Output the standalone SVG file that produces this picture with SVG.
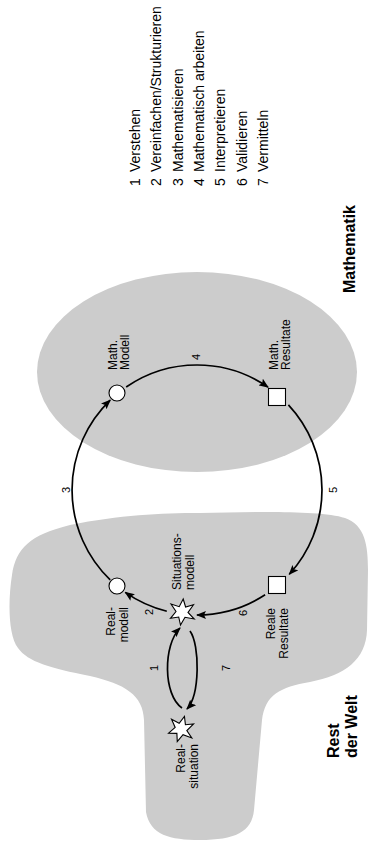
<svg xmlns="http://www.w3.org/2000/svg" width="370" height="845" viewBox="0 0 370 845">
<style>
text{font-family:"Liberation Sans",Arial,Helvetica,sans-serif;fill:#000}
.lbl{font-size:12px}
.num{font-size:11px}
.leg{font-size:14px}
.big{font-size:16px;font-weight:bold}
.area{fill:#cccccc;stroke:none}
.arc{fill:none;stroke:#000;stroke-width:1.7;marker-end:url(#ah)}
.node{fill:#fff;stroke:#000;stroke-width:1.1}
</style>
<defs>
<marker id="ah" viewBox="0 0 10 8" refX="9" refY="4" markerWidth="10" markerHeight="8" markerUnits="userSpaceOnUse" orient="auto">
<path d="M0,0 L10,4 L0,8 L2,4 Z" fill="#000"/>
</marker>
<polygon id="star" points="1.2,-13 3.6,-5 11.5,-7.2 6,0.5 12.2,7 3,5.3 -1.5,13 -3.3,5 -11.5,6.3 -6,-0.5 -11,-8 -2.8,-5.3"/>
</defs>

<g id="areas">
<ellipse id="mathematik-area" class="area" cx="197" cy="372" rx="160" ry="100"/>
<path id="welt-area" class="area" d="M200,513 C250,512 320,510 345,518 C365,525 368,545 368,570 L367,630 C366,660 345,675 310,682 C280,687 265,695 262,720 L254,810 C252,832 235,840 200,840 C170,840 150,835 146,812 L144,720 C143,695 125,684 90,676 C50,668 28,662 18,648 C8,635 8,600 12,575 C16,548 30,535 70,525 C120,515 160,513 200,513 Z"/>
</g>

<g id="connectors">
<path id="c3" class="arc" d="M110.2,579.9 A125,125 0 0 1 110.2,400.1"/>
<path id="c4" class="arc" d="M126.2,387 A125,125 0 0 1 268,387.1"/>
<path id="c5" class="arc" d="M288.4,404.8 A125,125 0 0 1 289.3,574.3"/>
<path id="c6" class="arc" d="M265.1,594.8 A125,125 0 0 1 197,615"/>
<path id="c2" class="arc" d="M166.8,611.3 A125,125 0 0 1 125.3,592.4"/>
<path id="c1" class="arc" d="M182,708 C163,695 163,645 180,628"/>
<path id="c7" class="arc" d="M190,631 C200,645 200,695 187,709"/>
<g class="num">
<text transform="translate(158,668) rotate(-90)" text-anchor="middle">1</text>
<text transform="translate(153,612) rotate(-90)" text-anchor="middle">2</text>
<text transform="translate(70,490) rotate(-90)" text-anchor="middle">3</text>
<text transform="translate(200,357) rotate(-90)" text-anchor="middle">4</text>
<text transform="translate(337,490) rotate(-90)" text-anchor="middle">5</text>
<text transform="translate(247,613) rotate(-90)" text-anchor="middle">6</text>
<text transform="translate(230,668) rotate(-90)" text-anchor="middle">7</text>
</g>
</g>

<g id="realmodell">
<circle class="node" cx="117" cy="586" r="8"/>
<text class="lbl" transform="translate(115,607) rotate(-90)" text-anchor="end"><tspan x="0" y="0">Real-</tspan><tspan x="0" y="13">modell</tspan></text>
</g>
<g id="situationsmodell">
<use href="#star" class="node" transform="translate(182,612)"/>
<text class="lbl" transform="translate(181,590) rotate(-90)"><tspan x="0" y="0">Situations-</tspan><tspan x="0" y="13">modell</tspan></text>
</g>
<g id="realsituation">
<use href="#star" class="node" transform="translate(181,729) rotate(10)"/>
<text class="lbl" transform="translate(185,744) rotate(-90)" text-anchor="end"><tspan x="0" y="0">Real-</tspan><tspan x="0" y="13">situation</tspan></text>
</g>
<g id="mathmodell">
<circle class="node" cx="117" cy="393" r="8"/>
<text class="lbl" transform="translate(117,370) rotate(-90)"><tspan x="0" y="0">Math.</tspan><tspan x="0" y="12">Modell</tspan></text>
</g>
<g id="mathresultate">
<rect class="node" x="268.5" y="388.5" width="17" height="17"/>
<text class="lbl" transform="translate(278,370) rotate(-90)"><tspan x="0" y="0">Math.</tspan><tspan x="0" y="12">Resultate</tspan></text>
</g>
<g id="realeresultate">
<rect class="node" x="268.5" y="576.5" width="17" height="17"/>
<text class="lbl" transform="translate(275,608) rotate(-90)" text-anchor="end"><tspan x="0" y="0">Reale</tspan><tspan x="0" y="13">Resultate</tspan></text>
</g>

<g id="titles">
<text class="big" transform="translate(355,293) rotate(-90)">Mathematik</text>
<text class="big" transform="translate(339,758) rotate(-90)"><tspan x="0" y="0">Rest</tspan><tspan x="0" y="18">der Welt</tspan></text>
</g>

<g id="legend" class="leg">
<text transform="translate(140,186) rotate(-90)">1</text><text transform="translate(140,172) rotate(-90)">Verstehen</text>
<text transform="translate(161.3,186) rotate(-90)">2</text><text transform="translate(161.3,172) rotate(-90)">Vereinfachen/Strukturieren</text>
<text transform="translate(182.6,186) rotate(-90)">3</text><text transform="translate(182.6,172) rotate(-90)">Mathematisieren</text>
<text transform="translate(203.9,186) rotate(-90)">4</text><text transform="translate(203.9,172) rotate(-90)">Mathematisch arbeiten</text>
<text transform="translate(225.2,186) rotate(-90)">5</text><text transform="translate(225.2,172) rotate(-90)">Interpretieren</text>
<text transform="translate(246.5,186) rotate(-90)">6</text><text transform="translate(246.5,172) rotate(-90)">Validieren</text>
<text transform="translate(267.8,186) rotate(-90)">7</text><text transform="translate(267.8,172) rotate(-90)">Vermitteln</text>
</g>
</svg>
